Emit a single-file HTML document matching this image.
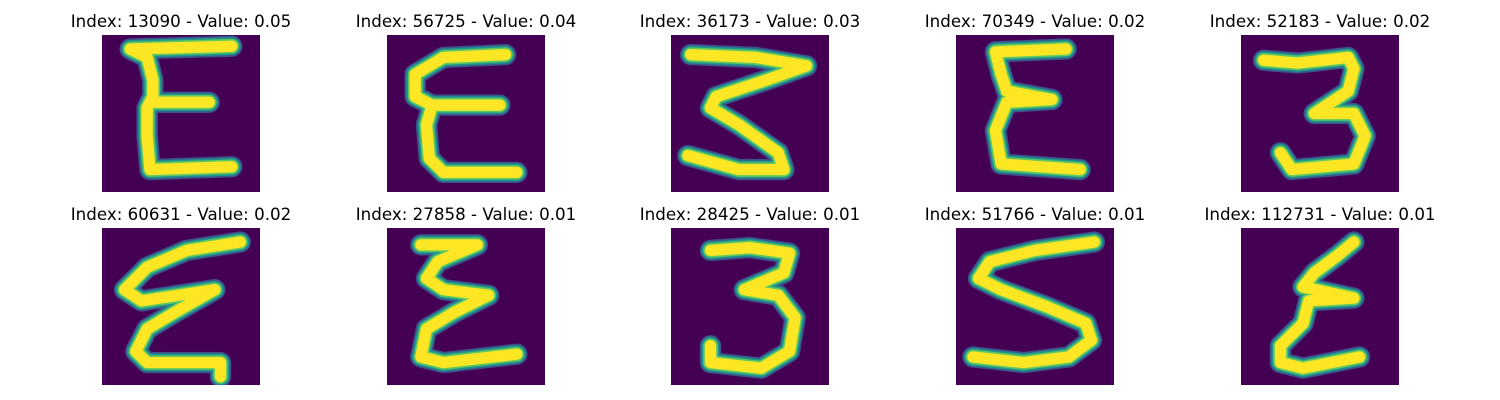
<!DOCTYPE html>
<html><head><meta charset="utf-8">
<style>
body{margin:0;background:#fff;width:1500px;height:400px;overflow:hidden;font-family:"DejaVu Sans","Liberation Sans",sans-serif;}
#wrap{position:relative;width:1500px;height:400px;}
.title{position:absolute;font-size:16.7px;color:#000;white-space:nowrap;transform:translateX(-50%);}
svg.panel{position:absolute;width:158px;height:157px;}
</style></head>
<body>
<div id="wrap"></div>
<script>
const indices=[13090,56725,36173,70349,52183,60631,27858,28425,51766,112731];
const values=["0.05","0.04","0.03","0.02","0.02","0.02","0.01","0.01","0.01","0.01"];
const strokes=[
 [[[23,2],[5,2.5],[8,4],[9,8],[9,11],[8,13],[8,18],[8.5,24],[23,23.5]],[[9,12],[19,12]]],
 [[[21,3.5],[10,4],[5,7],[5,11],[8,12.5],[20,12.5]],[[8,12.5],[7,16],[7.5,22],[10,24.5],[23,24.5]]],
 [[[3.5,3.5],[15,4],[24,5.5],[17,8],[8,11],[7,13],[12,16],[19,21],[20,24],[12,24],[3,21.5]]],
 [[[19.5,2.5],[7,3],[8,7],[9,10],[17,11.5],[9,12],[7,17],[8,23],[22,24]]],
 [[[4,4.5],[10,5],[19,4],[20,6],[19,10],[13,14],[20,14],[22,18],[20,23],[9,24],[7,21]]],
 [[[24.5,2.5],[15,4],[8,7],[4,11],[7,13],[20,11],[13,15],[8,18],[6,22],[8,24],[21,24],[21,26.5]]],
 [[[6,3],[16,3],[9,6],[7,9],[10,11],[18,12],[12,15],[7,18],[6,23],[10,24],[23,22.5]]],
 [[[7,4],[14,3.5],[21,4.5],[20,8],[13,11],[19,12],[22,16],[21,22],[16,25],[7,24],[7,21]]],
 [[[24.5,2.5],[14,4],[6,6],[4,9],[8,11],[16,14],[23,17],[24,20],[20,23],[12,24],[3,23]]],
 [[[20,2.5],[17,5],[13,8],[11,10.5],[20,12.5],[12,13],[11,17],[7,21],[7,24],[11,25],[21,23]]]
];
const colX=[102,387,671,956,1241], rowY=[35,228];
const wrap=document.getElementById('wrap');
const NS='http://www.w3.org/2000/svg';
for(let i=0;i<10;i++){
 const c=i%5,r=Math.floor(i/5);
 const t=document.createElement('div');
 t.className='title';
 
 
 t.style.left=(colX[c]+79)+'px';t.style.top=(rowY[r]-24)+'px';
 t.textContent='Index: '+indices[i]+' - Value: '+values[i];
 wrap.appendChild(t);
 const s=document.createElementNS(NS,'svg');
 s.setAttribute('class','panel');
 
 
 s.setAttribute('viewBox','0 0 28 28');s.setAttribute('preserveAspectRatio','none');
 s.style.left=colX[c]+'px';s.style.top=rowY[r]+'px';
 const bg=document.createElementNS(NS,'rect');
 
 
 bg.setAttribute('width',28);bg.setAttribute('height',28);bg.setAttribute('fill','#440154');
 s.appendChild(bg);
 const layers=[['#3b528b',3.8],['#21918c',3.2],['#5ec962',2.6],['#fde725',2.0]];
 for(const [col,w] of layers){
  for(const st of strokes[i]){
   const p=document.createElementNS(NS,'polyline');
   
   
   p.setAttribute('points',st.map(q=>q.join(',')).join(' '));
   p.setAttribute('fill','none');p.setAttribute('stroke',col);p.setAttribute('stroke-width',w);
   p.setAttribute('stroke-linejoin','round');p.setAttribute('stroke-linecap','round');
   s.appendChild(p);
  }
 }
 wrap.appendChild(s);
}
</script>
</body></html>
